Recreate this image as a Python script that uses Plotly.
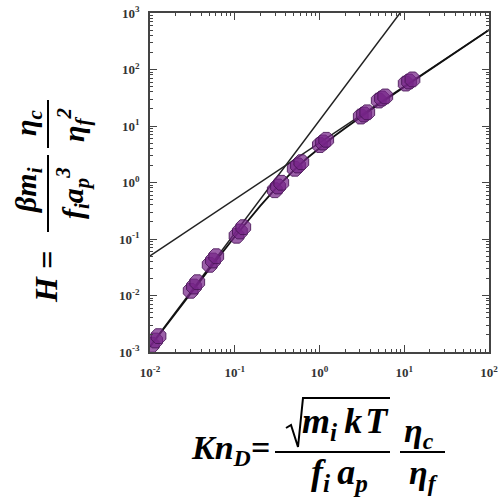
import plotly.graph_objects as go

# ---------------- data ----------------
data_kn = [0.0105, 0.0115, 0.0126,
           0.0302, 0.033, 0.0361,
           0.0506, 0.0553, 0.0605,
           0.105, 0.115, 0.126,
           0.297, 0.324, 0.354,
           0.51, 0.557, 0.61,
           1.01, 1.10, 1.20,
           3.07, 3.35, 3.66,
           5.0, 5.46, 5.97,
           10.4, 11.4, 12.5]
data_h = [0.00134, 0.0016, 0.00191,
          0.0121, 0.0144, 0.0172,
          0.0349, 0.0416, 0.0496,
          0.114, 0.136, 0.162,
          0.73, 0.85, 0.99,
          1.75, 2.0, 2.29,
          4.6, 5.1, 5.7,
          14.7, 16.0, 17.5,
          28.2, 30.7, 33.4,
          56.3, 61.3, 66.8]

# transition curve through the data
curve_kn = [0.01, 0.02, 0.05, 0.1, 0.2, 0.3, 0.5, 0.7, 1, 1.5, 2, 3, 5, 10, 20, 50, 100]
curve_h = [0.00124, 0.00489, 0.0293, 0.1096, 0.3845, 0.761, 1.660, 2.633, 4.127,
           6.632, 9.138, 14.15, 24.17, 49.23, 99.35, 249.8, 500.4]

# continuum-limit line (slope 2) and free-molecular line (slope 1)
steep_kn = [0.009, 10]
steep_h = [0.00102, 1257]
shallow_kn = [0.01, 100]
shallow_h = [0.0501, 501]

x_tickvals = [0.01, 0.1, 1, 10, 100]
x_ticktext = ["10<sup>-2</sup>", "10<sup>-1</sup>", "10<sup>0</sup>", "10<sup>1</sup>", "10<sup>2</sup>"]
y_tickvals = [0.001, 0.01, 0.1, 1, 10, 100, 1000]
y_ticktext = ["10<sup>-3</sup>", "10<sup>-2</sup>", "10<sup>-1</sup>", "10<sup>0</sup>",
              "10<sup>1</sup>", "10<sup>2</sup>", "10<sup>3</sup>"]

# ---------------- layout helpers ----------------
W, H = 498, 500
L, R, T, B = 150, 9, 13, 148
PW, PH = W - L - R, H - T - B


def px(x):
    return (x - L) / PW


def py(y):
    return (H - B - y) / PH


minor_x = [k * 10 ** e for e in range(-2, 2) for k in range(2, 10)]
minor_y = [k * 10 ** e for e in range(-3, 3) for k in range(2, 10)]

fig = go.Figure()
fig.add_trace(go.Scatter(x=steep_kn, y=steep_h, mode="lines",
                         line=dict(color="#222", width=1.5), showlegend=False))
fig.add_trace(go.Scatter(x=shallow_kn, y=shallow_h, mode="lines",
                         line=dict(color="#222", width=1.5), showlegend=False))
fig.add_trace(go.Scatter(x=curve_kn, y=curve_h, mode="lines",
                         line=dict(color="#111", width=1.8), showlegend=False))
fig.add_trace(go.Scatter(x=data_kn, y=data_h, mode="markers",
                         marker=dict(symbol="octagon", size=16,
                                     color="rgba(118,36,136,0.72)",
                                     line=dict(color="rgba(70,20,85,0.85)", width=1)),
                         showlegend=False))

tickfont = dict(family="Liberation Serif", size=13, color="#333", weight="bold")
axis_common = dict(type="log", showline=True, linecolor="#444", linewidth=1.5,
                   mirror="ticks", ticks="inside", ticklen=7, tickwidth=1.2,
                   tickcolor="#444", showgrid=False, zeroline=False,
                   tickfont=tickfont, tickmode="array", automargin=False,
                   ticklabeloverflow="allow")

fig.update_xaxes(range=[-2, 2], tickvals=x_tickvals, ticktext=x_ticktext,
                 ticklabelstandoff=8,
                 minor=dict(tickmode="array", tickvals=minor_x, ticks="inside",
                            ticklen=3, tickwidth=1, tickcolor="#444", showgrid=False),
                 **axis_common)
fig.update_yaxes(range=[-3, 3], tickvals=y_tickvals, ticktext=y_ticktext,
                 ticklabelstandoff=6,
                 minor=dict(tickmode="array", tickvals=minor_y, ticks="inside",
                            ticklen=3, tickwidth=1, tickcolor="#444", showgrid=False),
                 **axis_common)

lab = dict(family="Liberation Serif", size=34, color="black", weight="bold", style="italic")
lab_big = dict(lab, size=36)
ylab = dict(lab, size=32)
ylab_s = dict(lab, size=30)

ann = []


def add_text(text, x, y, font, angle=0, xanchor="center", yanchor="middle"):
    ann.append(dict(text=text, x=px(x), y=py(y), xref="paper", yref="paper",
                    showarrow=False, font=font, textangle=angle,
                    xanchor=xanchor, yanchor=yanchor))


shapes = []


def add_line(x0, y0, x1, y1, w=2):
    shapes.append(dict(type="line", xref="paper", yref="paper",
                       x0=px(x0), y0=py(y0), x1=px(x1), y1=py(y1),
                       line=dict(color="black", width=w)))


# x-axis label:  Kn_D = sqrt(m_i kT)/(f_i a_p) * eta_c/eta_f
add_text("Kn<sub>D</sub>=", 272, 450, lab, xanchor="right")
add_line(275, 452, 390, 452)
pts = [(286, 428), (291, 425), (298, 447), (303, 398), (390, 398)]
path = "M " + " L ".join(f"{px(a):.5f},{py(b):.5f}" for a, b in pts)
shapes.append(dict(type="path", xref="paper", yref="paper", path=path,
                   line=dict(color="black", width=2)))
add_text("m<sub>i</sub>\u2009k\u200aT", 345, 424, lab_big)
add_text("f<sub>i</sub>\u2009a<sub>p</sub>", 339, 474, lab_big)
add_line(400, 452, 445, 452)
add_text("η<sub>c</sub>", 419, 433, lab)
add_text("η<sub>f</sub>", 423, 475, lab)

# y-axis label:  H = beta m_i/(f_i a_p^3) * eta_c/eta_f^2  (rotated)
add_text("H", 46, 290, ylab, angle=-90)
add_text("=", 47, 260, ylab, angle=-90)
add_line(48, 155, 48, 232)
add_text("βm<sub>i</sub>", 28, 190, ylab_s, angle=-90)
add_text("f<sub>i</sub>a<sub>p</sub><sup>3</sup>", 73, 193, ylab_s, angle=-90)
add_line(48, 100, 48, 148)
add_text("η<sub>c</sub>", 28, 123, ylab_s, angle=-90)
add_text("η<sub>f</sub><sup>2</sup>", 73, 125, ylab_s, angle=-90)

fig.update_layout(width=W, height=H, margin=dict(l=L, r=R, t=T, b=B),
                  paper_bgcolor="white", plot_bgcolor="white",
                  annotations=ann, shapes=shapes)

fig.write_html("out.html", config={"displayModeBar": False},
               post_script="document.body.style.margin='0px';")
